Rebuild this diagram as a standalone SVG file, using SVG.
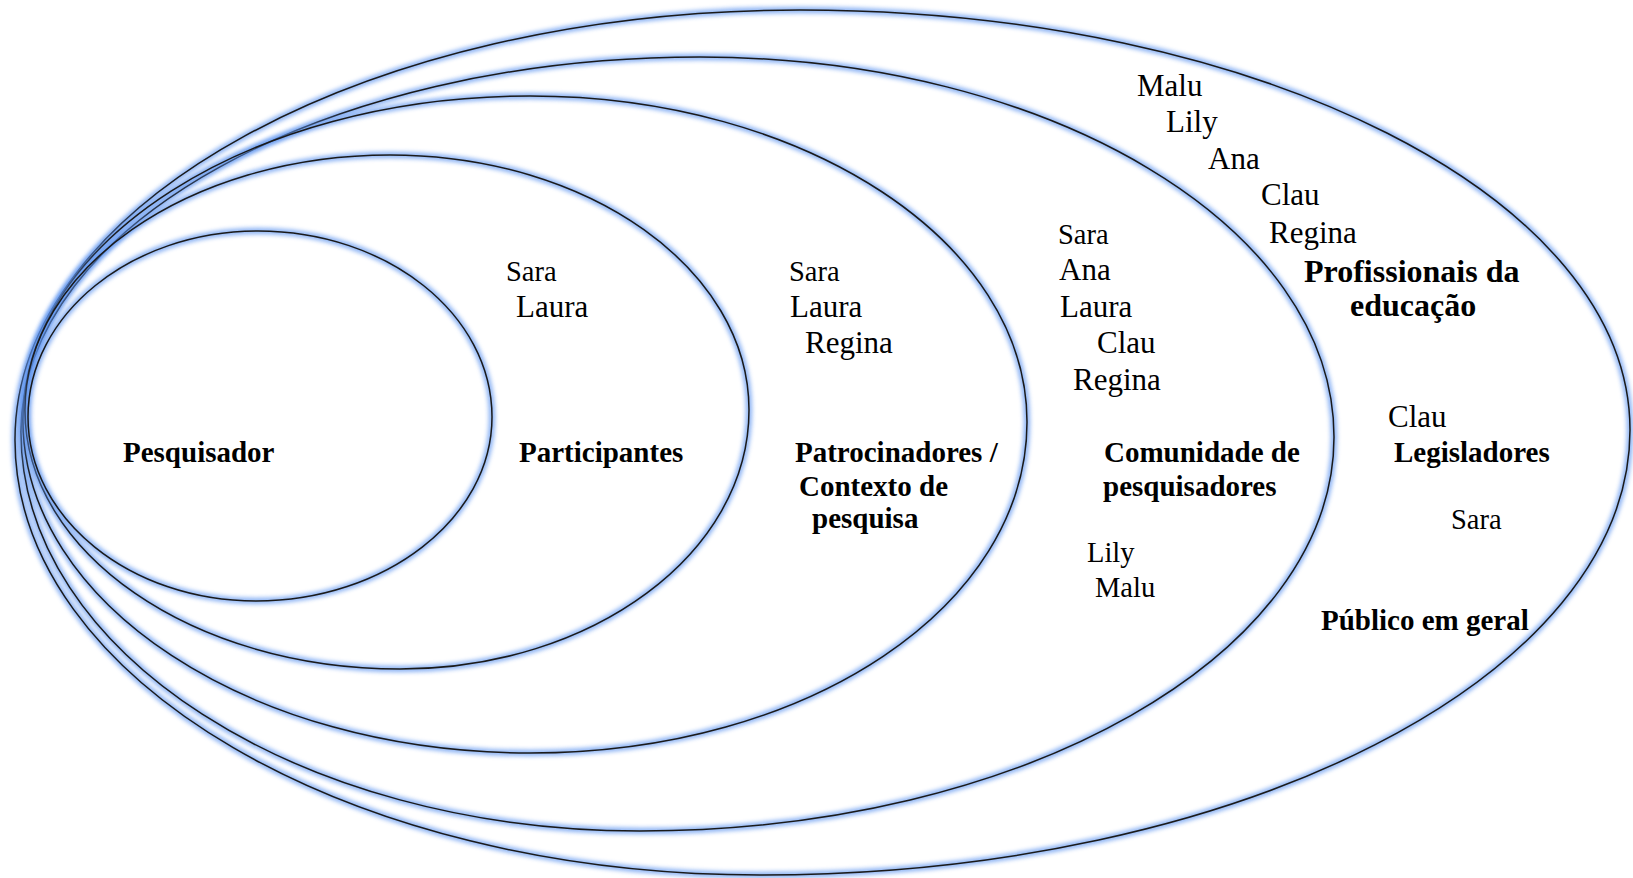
<svg xmlns="http://www.w3.org/2000/svg" width="1633" height="878" viewBox="0 0 1633 878">
<style>
.glow{fill:none;stroke:#5f95f0;stroke-width:6.5;opacity:0.7;filter:url(#blur)}
.line{fill:none;stroke:#1a1a1a;stroke-width:1.5}
.n{font-family:"Liberation Serif","Times New Roman",serif;font-size:31px;fill:#000}
.s{font-family:"Liberation Serif","Times New Roman",serif;font-size:28.5px;fill:#000}
.b{font-family:"Liberation Serif","Times New Roman",serif;font-size:29px;font-weight:bold;fill:#000}
.bl{font-family:"Liberation Serif","Times New Roman",serif;font-size:32px;font-weight:bold;fill:#000}
</style>
<defs>
<filter id="blur" x="-5%" y="-5%" width="110%" height="110%"><feGaussianBlur stdDeviation="2"/></filter>
<path id="p5" d="M15,440 C15,202.5 366.4,10 800,10 C1258.4,10 1630,198 1630,430 C1630,675.8 1240.5,875 760,875 C348.5,875 15,680.3 15,440 Z"/>
<path id="p4" d="M21,432 C21,224.9 325,57 700,57 C1050.2,57 1334,227.1 1334,437 C1334,654.6 1023.3,831 640,831 C298.1,831 21,652.4 21,432 Z"/>
<path id="p3" d="M23,420 C23,241.1 250,96 530,96 C804.5,96 1027,242 1027,422 C1027,604.8 810,753 530,753 C250,753 23,603.9 23,420 Z"/>
<path id="p2" d="M25,410 C25,269.2 188.4,155 390,155 C588.3,155 749,269.2 749,410 C749,553 592.7,669 400,669 C192.9,669 25,553 25,410 Z"/>
<path id="p1" d="M28,417 C28,314.3 131,231 258,231 C387.2,231 492,314.3 492,417 C492,518.6 384.6,601 256,601 C130,601 28,518.6 28,417 Z"/>
</defs>
<rect width="1633" height="878" fill="#fff"/>
<g id="publico-em-geral">
<use href="#p5" class="glow"/><use href="#p5" class="line"/>
<text class="b" x="1321" y="630">Público em geral</text>
<text class="n" x="1388" y="427">Clau</text>
<text class="b" x="1394" y="462">Legisladores</text>
<text class="s" x="1451" y="529">Sara</text>
</g>
<g id="profissionais-da-educacao">
<use href="#p4" class="glow"/><use href="#p4" class="line"/>
<text class="n" x="1137" y="96">Malu</text>
<text class="n" x="1166" y="132">Lily</text>
<text class="n" x="1208" y="169">Ana</text>
<text class="n" x="1261" y="205">Clau</text>
<text class="n" x="1269" y="243">Regina</text>
<text class="bl" x="1304" y="282">Profissionais da</text>
<text class="bl" x="1350" y="316">educação</text>
</g>
<g id="comunidade-de-pesquisadores">
<use href="#p3" class="glow"/><use href="#p3" class="line"/>
<text class="s" x="1058" y="244">Sara</text>
<text class="n" x="1059" y="280">Ana</text>
<text class="n" x="1060" y="317">Laura</text>
<text class="n" x="1097" y="353">Clau</text>
<text class="n" x="1073" y="390">Regina</text>
<text class="b" x="1104" y="462">Comunidade de</text>
<text class="b" x="1103" y="496">pesquisadores</text>
<text class="s" x="1087" y="562">Lily</text>
<text class="s" x="1095" y="597">Malu</text>
</g>
<g id="patrocinadores">
<use href="#p2" class="glow"/><use href="#p2" class="line"/>
<text class="s" x="789" y="281">Sara</text>
<text class="n" x="790" y="317">Laura</text>
<text class="n" x="805" y="353">Regina</text>
<text class="b" x="795" y="462">Patrocinadores /</text>
<text class="b" x="799" y="496">Contexto de</text>
<text class="b" x="812" y="528">pesquisa</text>
</g>
<g id="participantes">
<use href="#p1" class="glow"/><use href="#p1" class="line"/>
<text class="s" x="506" y="281">Sara</text>
<text class="n" x="516" y="317">Laura</text>
<text class="b" x="519" y="462">Participantes</text>
</g>
<g id="pesquisador">
<text class="b" x="123" y="462">Pesquisador</text>
</g>
</svg>
